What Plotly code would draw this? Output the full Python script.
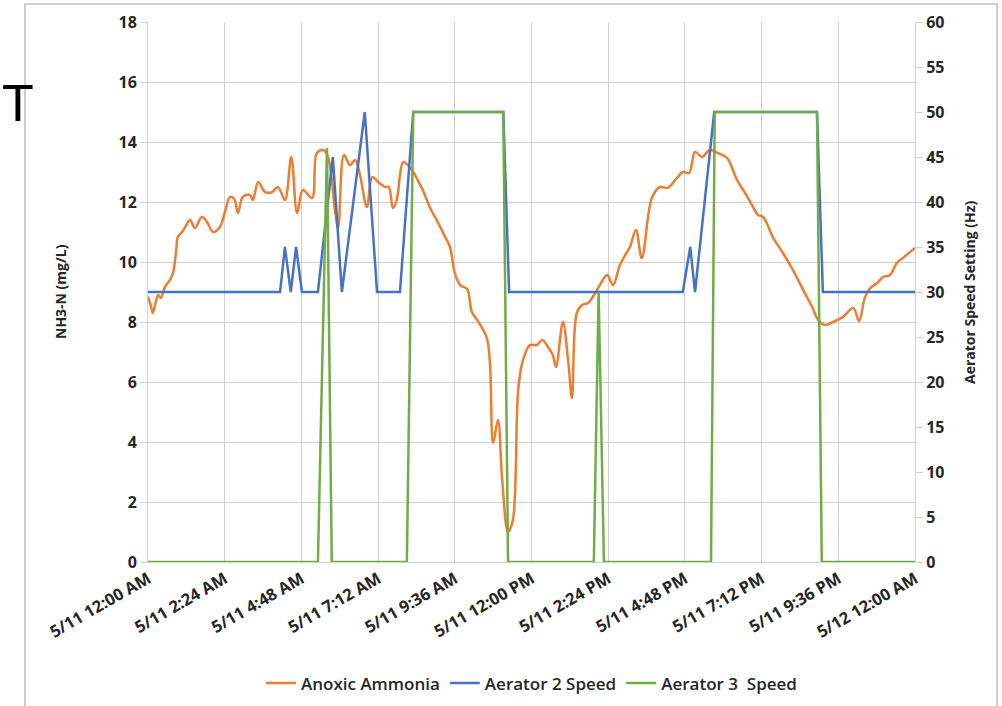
import pandas as pd
import plotly.graph_objects as go

# ---- data (minutes after 5/11 12:00 AM) ----
amm_min = [0, 6, 9, 15, 19, 24, 32, 41, 47, 53, 56, 64, 71, 79, 88, 101, 111, 122, 135, 145,
           154, 162, 169, 178, 192, 197, 207, 220, 233, 244, 257, 269, 280, 291, 308, 317, 329,
           338, 351, 357, 368, 379, 389, 398, 411, 421, 432, 445, 452, 460, 467, 479, 488, 498,
           511, 516, 529, 544, 558, 567, 576, 586, 599, 608, 618, 636, 642, 648, 657, 665, 676,
           685, 695, 704, 717, 730, 740, 751, 760, 766, 779, 789, 796, 805, 815, 826, 843, 854,
           862, 873, 886, 899, 905, 916, 927, 946, 961, 976, 993, 1004, 1016, 1027, 1040, 1055,
           1070, 1087, 1106, 1121, 1134, 1145, 1155, 1173, 1192, 1211, 1230, 1247, 1258, 1271,
           1286, 1305, 1324, 1335, 1346, 1356, 1369, 1380, 1393, 1406, 1417, 1440]
amm_val = [8.85, 8.5, 8.3, 8.7, 8.9, 8.8, 9.17, 9.4, 9.63, 10.4, 10.83, 11.0, 11.2, 11.4, 11.13,
           11.5, 11.33, 11.0, 11.17, 11.7, 12.17, 12.1, 11.63, 12.17, 12.23, 12.07, 12.67, 12.33,
           12.33, 12.5, 12.07, 13.5, 11.63, 12.4, 12.13, 13.63, 13.73, 13.5, 11.73, 11.13, 13.57,
           13.23, 13.4, 12.9, 11.83, 12.83, 12.67, 12.5, 12.5, 11.8, 12.07, 13.33, 13.23, 13.0,
           12.57, 12.4, 11.83, 11.33, 10.83, 10.5, 9.63, 9.23, 9.1, 8.33, 8.07, 7.47, 6.63, 3.97,
           4.73, 2.73, 1.0, 1.4, 5.73, 6.73, 7.23, 7.23, 7.4, 7.17, 6.9, 6.5, 8.0, 6.67, 5.47,
           8.3, 8.57, 8.63, 9.07, 9.4, 9.57, 9.23, 9.9, 10.33, 10.5, 11.07, 10.13, 12.13, 12.5,
           12.47, 12.8, 13.0, 12.97, 13.67, 13.5, 13.73, 13.63, 13.47, 12.73, 12.3, 11.9, 11.57,
           11.5, 10.83, 10.3, 9.73, 9.07, 8.5, 8.07, 7.9, 8.0, 8.17, 8.47, 8.03, 8.83, 9.13, 9.3,
           9.5, 9.57, 9.97, 10.13, 10.47]

aer2_min = [0, 248, 257, 268, 278, 289, 319, 347, 364, 407, 430, 473, 498, 667, 678,
            1004, 1018, 1027, 1063, 1256, 1267, 1440]
aer2_val = [30, 30, 35, 30, 35, 30, 30, 45, 30, 50, 30, 30, 50, 50, 30,
            30, 35, 30, 50, 50, 30, 30]

aer3_min = [0, 319, 336, 345, 486, 498, 667, 676, 837, 846, 856, 1057, 1064, 1256, 1265, 1440]
aer3_val = [0, 0, 46, 0, 0, 50, 50, 0, 0, 30, 0, 0, 50, 50, 0, 0]

start = pd.Timestamp("2020-05-11 00:00")
def to_t(mins):
    return start + pd.to_timedelta(mins, unit="min")

FONT = "Open Sans"
TXT = "#262626"
fig = go.Figure()
fig.add_trace(go.Scatter(x=to_t(amm_min), y=amm_val, name="Anoxic Ammonia", mode="lines",
                         line=dict(color="#ED7D31", width=2.5, shape="spline", smoothing=1.0),
                         yaxis="y"))
fig.add_trace(go.Scatter(x=to_t(aer2_min), y=aer2_val, name="Aerator 2 Speed", mode="lines",
                         line=dict(color="#4472C4", width=2.5), yaxis="y2"))
fig.add_trace(go.Scatter(x=to_t(aer3_min), y=aer3_val, name="Aerator 3  Speed", mode="lines",
                         line=dict(color="#70AD47", width=2.5), yaxis="y2"))

ytickf = dict(size=16, family=FONT, weight=700, color=TXT)
xtickf = dict(size=16.5, family=FONT, weight=700, color=TXT)
fig.update_layout(
    width=1002, height=706,
    margin=dict(l=148, r=87, t=22, b=144, autoexpand=False),
    paper_bgcolor="white", plot_bgcolor="white",
    font=dict(family=FONT, size=14, color=TXT),
    showlegend=True,
    legend=dict(orientation="h", x=0.5, xanchor="center", y=-0.225, yanchor="middle",
                font=dict(size=17, family=FONT, weight=600, color=TXT),
                itemwidth=30, tracegroupgap=0),
    xaxis=dict(type="date", range=[to_t(0), to_t(1440)], tick0=to_t(0), dtick=8640000,
               tickformat="%-m/%d %-I:%M %p", tickangle=-30, tickfont=xtickf, automargin=False,
               showgrid=True, gridcolor="#D0D0D0", gridwidth=1,
               showline=True, linecolor="#D0D0D0", ticks="", zeroline=False),
    yaxis=dict(range=[0, 18], dtick=2, showgrid=True, gridcolor="#D0D0D0",
               tickfont=ytickf, automargin=False,
               ticks="outside", ticklen=7, tickcolor="#D0D0D0",
               showline=True, linecolor="#D0D0D0", zeroline=False),
    yaxis2=dict(range=[0, 60], dtick=5, overlaying="y", side="right", showgrid=False,
                tickfont=ytickf, automargin=False,
                ticks="outside", ticklen=7, tickcolor="#D0D0D0",
                showline=True, linecolor="#D0D0D0", zeroline=False),
)

# axis titles
fig.add_annotation(text="NH3-N (mg/L)", xref="paper", yref="paper",
                   x=(60 - 148) / 767, y=0.5, textangle=-90, showarrow=False,
                   xanchor="center", yanchor="middle",
                   font=dict(size=14, family=FONT, weight=700, color=TXT))
fig.add_annotation(text="Aerator Speed Setting (Hz)", xref="paper", yref="paper",
                   x=(969 - 148) / 767, y=0.5, textangle=-90, showarrow=False,
                   xanchor="center", yanchor="middle",
                   font=dict(size=14, family=FONT, weight=700, color=TXT))

# outer chart border
fig.add_shape(type="rect", xref="paper", yref="paper",
              x0=(25 - 148) / 767, x1=(997 - 148) / 767,
              y0=-0.30, y1=(562 - 4) / 540,
              line=dict(color="#BFBFBF", width=1.5), fillcolor="rgba(0,0,0,0)", layer="below")
fig.add_annotation(text="T", xref="paper", yref="paper", x=(0 - 148) / 767, y=(562 - 103) / 540,
                   xanchor="left", yanchor="middle", showarrow=False,
                   font=dict(size=52, family="Liberation Sans", color="black"))

fig.write_html("out.html", config={"displayModeBar": False},
               post_script="document.body.style.margin='0px';document.body.style.overflow='hidden';")
